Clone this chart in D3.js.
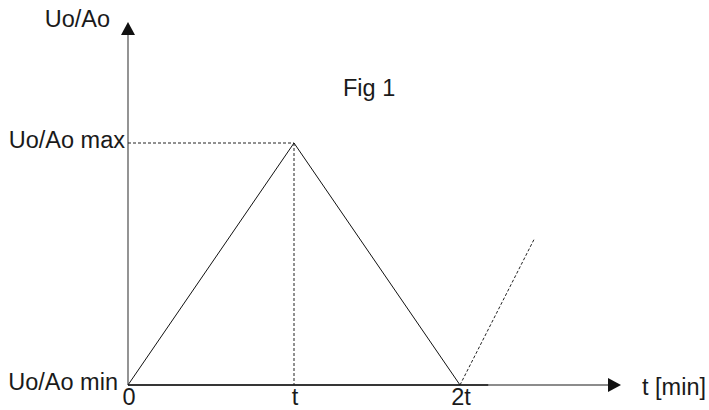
<!DOCTYPE html>
<html>
<head>
<meta charset="utf-8">
<script src="https://cdn.jsdelivr.net/npm/d3@7"></script>
<style>
  body { margin: 0; background: #fff; }
  svg { display: block; }
  text { font-family: "Liberation Sans", Arial, sans-serif; font-size: 23.5px; fill: #1a1a1a; }
</style>
</head>
<body>
<svg width="709" height="410"></svg>
<script>
// data (t in units of t, U normalised 0 = min, 1 = max)
const cycleT = [0, 1, 2];
const cycleU = [0, 1, 0];
const nextT = [2, 2.45];
const nextU = [0, 0.607];
const xTicks = [0, 1, 2];
const xTickLabels = ["0", "t", "2t"];
const yTicks = [0, 1];
const yTickLabels = ["Uo/Ao min", "Uo/Ao max"];
const xAxisEnd = 2.97;
const yAxisEnd = 1.5;

const svg = d3.select("svg");

const x = d3.scaleLinear().domain([0, 2]).range([128, 460]);
const y = d3.scaleLinear().domain([0, 1]).range([385, 143]);

// axes (grey), with darker baseline under the curve
svg.append("line")
    .attr("x1", x(0)).attr("y1", y(0))
    .attr("x2", x(xAxisEnd) - 12).attr("y2", y(0))
    .attr("stroke", "#666").attr("stroke-width", 1.4);
svg.append("line")
    .attr("x1", x(0)).attr("y1", y(0))
    .attr("x2", x(2.17)).attr("y2", y(0))
    .attr("stroke", "#1a1a1a").attr("stroke-width", 1.3);
svg.append("line")
    .attr("x1", x(0)).attr("y1", y(0))
    .attr("x2", x(0)).attr("y2", y(yAxisEnd) + 12)
    .attr("stroke", "#666").attr("stroke-width", 1.4);

// arrow heads
const xe = x(xAxisEnd), ye = y(yAxisEnd);
svg.append("path")
    .attr("d", `M${xe},${y(0)} L${xe - 13},${y(0) - 7} L${xe - 13},${y(0) + 7} Z`)
    .attr("fill", "#111");
svg.append("path")
    .attr("d", `M${x(0)},${ye} L${x(0) - 7},${ye + 13} L${x(0) + 7},${ye + 13} Z`)
    .attr("fill", "#111");

// guide lines to the peak
svg.append("line")
    .attr("x1", x(0)).attr("y1", y(1))
    .attr("x2", x(1)).attr("y2", y(1))
    .attr("stroke", "#222").attr("stroke-width", 1)
    .attr("stroke-dasharray", "3,2");
svg.append("line")
    .attr("x1", x(1)).attr("y1", y(1))
    .attr("x2", x(1)).attr("y2", y(0))
    .attr("stroke", "#222").attr("stroke-width", 1)
    .attr("stroke-dasharray", "3,2");

const line = d3.line()
    .x(d => x(d[0]))
    .y(d => y(d[1]));

svg.append("path")
    .datum(cycleT.map((t, i) => [t, cycleU[i]]))
    .attr("d", line)
    .attr("fill", "none")
    .attr("stroke", "#111")
    .attr("stroke-width", 1);

svg.append("path")
    .datum(nextT.map((t, i) => [t, nextU[i]]))
    .attr("d", line)
    .attr("fill", "none")
    .attr("stroke", "#222")
    .attr("stroke-width", 1)
    .attr("stroke-dasharray", "3,2");

// tick labels
svg.selectAll(".xlab")
    .data(xTicks)
    .enter()
    .append("text")
    .attr("class", "xlab")
    .attr("x", d => x(d) + 1)
    .attr("y", 405)
    .attr("text-anchor", "middle")
    .text((d, i) => xTickLabels[i]);

svg.selectAll(".ylab")
    .data(yTicks)
    .enter()
    .append("text")
    .attr("class", "ylab")
    .attr("x", d => d === 0 ? x(0) - 10 : x(0) - 3)
    .attr("y", d => y(d) + 5)
    .attr("text-anchor", "end")
    .text((d, i) => yTickLabels[i]);

// axis titles
svg.append("text")
    .attr("x", 110).attr("y", 27)
    .attr("text-anchor", "end")
    .text("Uo/Ao");

svg.append("text")
    .attr("x", 642).attr("y", 395)
    .text("t [min]");

svg.append("text")
    .attr("x", 343).attr("y", 96)
    .text("Fig 1");
</script>
</body>
</html>
